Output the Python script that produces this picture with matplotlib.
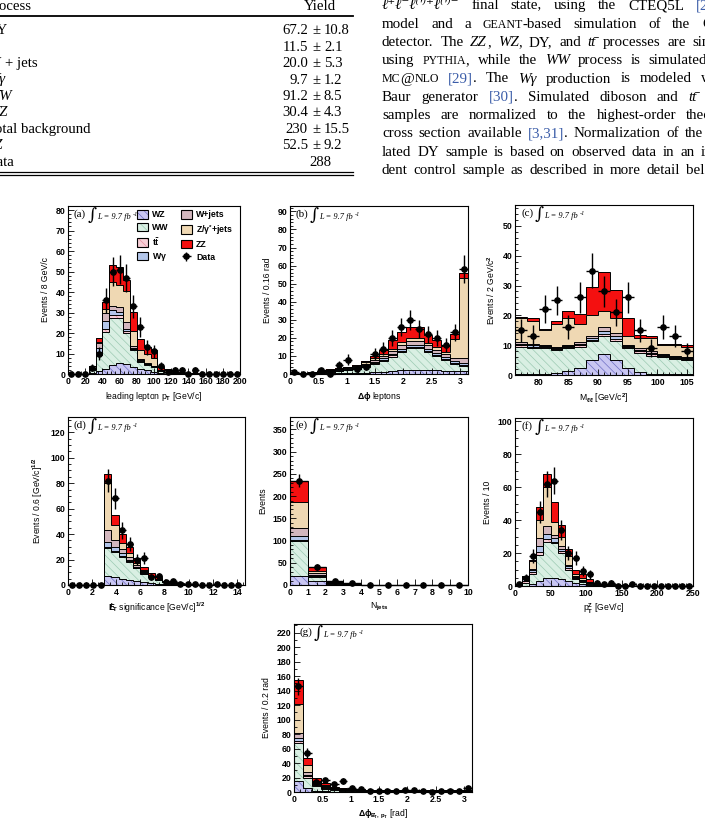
import numpy as np
import matplotlib
matplotlib.use('Agg')
import matplotlib.pyplot as plt
from matplotlib.patches import Patch
from matplotlib.lines import Line2D
from matplotlib.legend_handler import HandlerTuple
from matplotlib.ticker import MultipleLocator, AutoMinorLocator, FormatStrFormatter
from matplotlib.transforms import offset_copy

plt.rcParams['font.family'] = ['Liberation Sans', 'DejaVu Sans']
plt.rcParams['font.weight'] = 'bold'
plt.rcParams['mathtext.fontset'] = 'custom'
plt.rcParams['mathtext.rm'] = 'Liberation Sans:bold'
plt.rcParams['mathtext.it'] = 'Liberation Sans:italic:bold'
plt.rcParams['mathtext.bf'] = 'Liberation Sans:bold'
plt.rcParams['mathtext.sf'] = 'Liberation Sans:bold'
plt.rcParams['mathtext.default'] = 'rm'
plt.rcParams['hatch.linewidth'] = 0.5

W, H = 705, 824

# ---------------- table data ----------------
tab_names = ['DY', 't\u0074\u0304', 'W + jets', 'W\u03b3', 'WW', 'WZ', 'Total background', 'ZZ', 'Data']
tab_italic = [False, True, False, True, True, True, False, True, False]
tab_yield = ['67.2', '11.5', '20.0', '9.7', '91.2', '30.4', '230', '52.5', '288']
tab_err = ['10.8', '2.1', '5.3', '1.2', '8.5', '4.3', '15.5', '9.2', '']

# ---------------- histogram data ----------------
# stack order bottom -> top: WZ, WW, ttbar, Wgamma, W+jets, Z/gamma*+jets, ZZ
a_edges = np.arange(0, 201, 8)
a_wz = [0, 0, 0, 0.3, 1.5, 2.5, 4.5, 5.5, 5, 3.5, 2.5, 1.8, 1, 0.4, 0.2, 0.1, 0.1, 0.05, 0, 0, 0, 0, 0, 0, 0]
a_ww = [0, 0, 0, 1.5, 8, 18, 23, 22, 15, 8, 3.5, 2.6, 2.5, 1, 0.6, 0.3, 0.2, 0.1, 0.1, 0, 0, 0, 0, 0, 0]
a_tt = [0, 0, 0, 0.5, 1, 1.5, 1.5, 1.5, 1.2, 0.8, 0.5, 0.3, 0.2, 0.1, 0.1, 0.05, 0, 0, 0, 0, 0, 0, 0, 0, 0]
a_wg = [0, 0, 0, 0.5, 2, 4, 2, 1.5, 1, 0.5, 0.3, 0.2, 0.1, 0.05, 0, 0, 0, 0, 0, 0, 0, 0, 0, 0, 0]
a_wjets = [0, 0, 0, 1, 2.5, 4, 2, 2, 3, 1, 0.5, 0.4, 0.3, 0.2, 0.1, 0.1, 0, 0, 0, 0, 0, 0, 0, 0, 0]
a_dy = [0, 0, 0, 0.2, 0.5, 1.5, 12, 11, 15.5, 7, 4.5, 4.7, 3.5, 0.3, 0.8, 0.5, 0.4, 0.2, 0.1, 0.1, 0, 0, 0, 0, 0]
a_zz = [0, 0, 0, 0.1, 2, 3.5, 8, 8.5, 5.3, 9.5, 5.5, 3.3, 4.1, 1.5, 0.7, 0.6, 0.4, 0.3, 0.2, 0.1, 0.1, 0, 0, 0, 0]
a_data = [0, 0, 0, 3, 10, 36, 50, 51, 47, 33, 23, 13, 11, 4, 1, 2, 2, 0, 2, 0, 0, 0, 0, 0, 0]

b_edges = np.linspace(0, np.pi, 21)
b_wz = [0.1, 0.1, 0.2, 0.3, 0.3, 0.4, 0.5, 0.6, 0.8, 1.0, 1.3, 1.6, 2.0, 2.2, 2.3, 2.2, 2.0, 1.8, 1.6, 1.5]
b_ww = [0.2, 0.3, 0.4, 0.6, 1.0, 1.2, 1.6, 2.0, 3.0, 4.5, 6, 8, 10, 12, 12, 10, 8, 6, 4, 3]
b_tt = [0, 0, 0, 0.1, 0.2, 0.2, 0.3, 0.3, 0.4, 0.5, 0.6, 0.7, 0.8, 0.8, 0.8, 0.8, 0.7, 0.6, 0.6, 0.5]
b_wg = [0.1, 0.1, 0.1, 0.2, 0.3, 0.4, 0.4, 0.5, 0.6, 0.7, 0.8, 1.0, 1.2, 1.2, 1.2, 1.0, 1.0, 0.9, 0.9, 1.0]
b_wjets = [0.1, 0.2, 0.2, 0.2, 0.4, 0.4, 0.5, 0.6, 0.8, 1.0, 1.3, 1.6, 2.0, 2.2, 2.2, 2.0, 1.8, 1.6, 2.0, 3.0]
b_dy = [0, 0.1, 0.1, 0.1, 0.2, 0.3, 0.4, 0.6, 0.8, 1.0, 1.0, 1.2, 1.5, 1.5, 1.5, 1.4, 1.5, 1.5, 10, 44]
b_zz = [0, 0, 0.1, 0.1, 0.2, 0.3, 0.4, 0.6, 0.8, 1.5, 2.5, 4.5, 6, 6, 6, 4, 4, 3, 3, 3]
b_data = [1, 0, 0, 2, 0, 5, 8, 3, 4, 11, 14, 20, 26, 30, 25, 22, 20, 16, 23, 58]

c_edges = np.arange(76, 107, 2)
c_wz = [0.5, 0.5, 0.5, 0.8, 1.5, 2.5, 5, 7, 5, 2.5, 1, 0.5, 0.3, 0.3, 0.2]
c_ww = [9, 8.5, 8.5, 7.7, 7.5, 7, 6.5, 6, 6.5, 6.5, 6.5, 6, 5.7, 5.2, 4.8]
c_tt = [0.4, 0.4, 0.3, 0.3, 0.3, 0.4, 0.4, 0.8, 0.6, 0.3, 0.4, 0.4, 0.3, 0.3, 0.3]
c_wg = [0.6, 0.6, 0.4, 0.4, 0.4, 0.6, 0.6, 1.0, 0.9, 0.4, 0.6, 0.6, 0.4, 0.4, 0.4]
c_wjets = [0.5, 0.5, 0.3, 0.3, 0.3, 0.5, 0.5, 1.2, 1.0, 0.3, 0.5, 0.5, 0.3, 0.3, 0.3]
c_dy = [8, 7.5, 5, 7.5, 9, 6, 7, 5.5, 5, 3, 3.5, 4.5, 3, 3.5, 3.5]
c_zz = [0.5, 1, 0.5, 1, 2.5, 3.5, 9.5, 13, 9.5, 6, 1, 0.5, 0.5, 0.5, 0.5]
c_data = [15, 13, 22, 25, 16, 26, 35, 28, 21, 26, 15, 9, 16, 13, 8]

d_edges = np.arange(0, 14.41, 0.6)
d_wz = [0, 0, 0, 0, 0, 7, 6, 5, 4, 3, 2, 1.5, 1, 0.6, 0.4, 0.3, 0.2, 0.1, 0.1, 0, 0, 0, 0, 0]
d_ww = [0, 0, 0, 0, 0, 22, 20, 17, 14, 10, 7, 4.5, 3, 1.4, 0.8, 0.5, 0.3, 0.2, 0.1, 0.1, 0, 0, 0, 0]
d_tt = [0, 0, 0, 0, 0, 1, 1, 1, 0.8, 0.6, 0.4, 0.3, 0.2, 0.1, 0.1, 0.05, 0, 0, 0, 0, 0, 0, 0, 0]
d_wg = [0, 0, 0, 0, 0, 4, 3, 2, 1.2, 0.8, 0.5, 0.3, 0.2, 0.1, 0.05, 0, 0, 0, 0, 0, 0, 0, 0, 0]
d_wjets = [0, 0, 0, 0, 0, 9, 5, 3, 2, 1.6, 1, 0.5, 0.3, 0.2, 0.1, 0.05, 0, 0, 0, 0, 0, 0, 0, 0]
d_dy = [0, 0, 0, 0, 0, 37, 12, 5, 3, 1.5, 0.5, 0.3, 0.2, 0.1, 0.1, 0.05, 0, 0, 0, 0, 0, 0, 0, 0]
d_zz = [0, 0, 0, 0, 0, 7, 8, 7, 5, 4, 2.5, 2, 1.5, 0.8, 0.6, 0.4, 0.3, 0.2, 0.1, 0.1, 0.05, 0.05, 0, 0]
d_data = [0, 0, 0, 0, 0, 82, 68, 43, 32, 20, 21, 6, 7, 2, 3, 1, 1, 1, 0, 0, 1, 0, 0, 0]

e_edges = np.arange(0, 11, 1)
e_wz = [20, 8, 1, 0.3, 0.1, 0, 0, 0, 0, 0]
e_ww = [80, 9, 2, 0.5, 0.1, 0, 0, 0, 0, 0]
e_tt = [2, 3, 2, 1, 0.2, 0.05, 0, 0, 0, 0]
e_wg = [8, 2, 0.5, 0.2, 0, 0, 0, 0, 0, 0]
e_wjets = [18, 4, 1, 0.5, 0.1, 0, 0, 0, 0, 0]
e_dy = [58, 6, 0.5, 0.2, 0.05, 0, 0, 0, 0, 0]
e_zz = [49, 8, 1.5, 0.4, 0.1, 0, 0, 0, 0, 0]
e_data = [235, 40, 8, 5, 0, 0, 0, 0, 0, 0]

f_edges = np.arange(0, 251, 10)
f_wz = [0.1, 0.3, 1.5, 3, 5, 5, 4, 3, 2, 1.2, 0.6, 0.3, 0.2, 0.1, 0.1, 0.05, 0, 0, 0, 0, 0, 0, 0, 0, 0]
f_ww = [0.2, 1.5, 6, 16, 22, 21, 16, 7, 2.5, 1.5, 0.8, 0.4, 0.3, 0.2, 0.1, 0.1, 0.05, 0, 0, 0, 0, 0, 0, 0, 0]
f_tt = [0.3, 1.5, 1, 1.5, 1.5, 1, 1, 1, 0.5, 0.4, 0.3, 0.2, 0.1, 0.1, 0.05, 0.05, 0, 0, 0, 0, 0, 0, 0, 0, 0]
f_wg = [0.2, 1, 1, 3.5, 3, 2, 1.5, 1, 0.5, 0.3, 0.2, 0.1, 0.1, 0, 0, 0, 0, 0, 0, 0, 0, 0, 0, 0, 0]
f_wjets = [0.2, 1, 1, 5, 5, 2, 1.5, 1, 0.5, 0.4, 0.3, 0.2, 0.1, 0.1, 0.05, 0, 0, 0, 0, 0, 0, 0, 0, 0, 0]
f_dy = [0, 0.5, 4.5, 11, 23.5, 8, 6, 5, 1, 1, 0.5, 0.3, 0.2, 0.1, 0.1, 0.05, 0.05, 0, 0, 0, 0, 0, 0, 0, 0]
f_zz = [0, 0.2, 0.5, 8, 8, 12, 7, 4.5, 3, 2.7, 1.3, 0.5, 0.5, 0.4, 0.3, 0.2, 0.2, 0.1, 0.1, 0.1, 0.05, 0.05, 0, 0, 0]
f_data = [1, 5, 18, 45, 62, 64, 34, 20, 17, 9, 7, 2, 1, 2, 0, 0, 1, 0, 0, 0, 0, 0, 0, 0, 0]

g_edges = np.linspace(0, np.pi, 21)
g_wz = [15, 5, 2, 1, 0.6, 0.4, 0.3, 0.2, 0.2, 0.2, 0.2, 0.2, 0.2, 0.2, 0.2, 0.2, 0.2, 0.2, 0.2, 0.2]
g_ww = [52, 15, 6, 3.5, 2, 1.5, 1.2, 1, 1, 1, 0.9, 0.9, 0.9, 0.8, 0.8, 0.8, 0.8, 0.8, 0.8, 0.8]
g_tt = [3, 2, 1.5, 1.5, 1, 0.8, 0.8, 0.8, 0.7, 0.7, 0.7, 0.7, 0.6, 0.6, 0.6, 0.6, 0.6, 0.6, 0.6, 0.6]
g_wg = [5, 2, 1, 0.5, 0.4, 0.3, 0.2, 0.2, 0.2, 0.2, 0.2, 0.2, 0.2, 0.2, 0.2, 0.2, 0.2, 0.2, 0.2, 0.2]
g_wjets = [6, 3, 2, 1.5, 1, 0.8, 0.7, 0.7, 0.6, 0.6, 0.6, 0.6, 0.6, 0.6, 0.6, 0.6, 0.6, 0.6, 0.6, 0.6]
g_dy = [40, 10, 2.5, 1.5, 1, 0.6, 0.5, 0.4, 0.3, 0.3, 0.3, 0.3, 0.3, 0.3, 0.3, 0.3, 0.3, 0.3, 0.3, 0.4]
g_zz = [33, 10, 5, 2.5, 1, 0.6, 0.4, 0.3, 0.3, 0.2, 0.2, 0.2, 0.2, 0.2, 0.2, 0.2, 0.2, 0.2, 0.2, 0.3]
g_data = [146, 54, 14, 16, 11, 15, 5, 4, 2, 2, 2, 1, 3, 3, 2, 0, 1, 1, 1, 5]

procs = ['WZ', 'WW', 'tt', 'Wg', 'Wjets', 'DY', 'ZZ']
proc_labels = ['WZ', 'WW', r'$t\bar{t}$', r'W$\gamma$', 'W+jets', r'Z/$\gamma^{*}$+jets', 'ZZ']
fills = {'WZ': '#c9c6f2', 'WW': '#d9efe3', 'tt': '#f6cfd6', 'Wg': '#b3c6ea',
         'Wjets': '#d3b7be', 'DY': '#efd8b3', 'ZZ': '#f41010'}
hatches = {'WZ': '#6f6fc4', 'WW': '#9ccab3', 'tt': '#e58fa0'}

fig = plt.figure(figsize=(W / 100, H / 100), dpi=100)
renderer = fig.canvas.get_renderer()


def px_text(x, y, s, **kw):
    return fig.text(x / W, 1 - y / H, s, **kw)


def fill_patch(name):
    if name in hatches:
        return dict(facecolor=fills[name], edgecolor=hatches[name], hatch='\\\\\\\\', lw=0)
    return dict(facecolor=fills[name], edgecolor=fills[name], lw=0)


def draw_panel(ax, edges, comps, data):
    edges = np.asarray(edges, float)
    base = np.zeros(len(edges) - 1)
    tops = []
    for name, vals in zip(procs, comps):
        top = base + np.asarray(vals, float)
        ax.stairs(top, edges, baseline=base, fill=True, **fill_patch(name))
        tops.append(top)
        base = top
    for top in tops:
        ax.stairs(top, edges, color='k', lw=0.7)
    d = np.asarray(data, float)
    cen = 0.5 * (edges[1:] + edges[:-1])
    eb = ax.errorbar(cen, d, yerr=np.sqrt(d), xerr=0.5 * np.diff(edges), fmt='o', color='k',
                     ms=3.8, lw=1.0, capsize=0, zorder=5, clip_on=False)
    return eb


def style(ax, xlim, ylim, xmaj, xmin, ymaj, ymin, xlabel, ylabel, tag):
    ax.set_xlim(*xlim)
    ax.set_ylim(*ylim)
    ax.xaxis.set_major_locator(MultipleLocator(xmaj))
    ax.xaxis.set_minor_locator(AutoMinorLocator(xmin))
    ax.xaxis.set_major_formatter(FormatStrFormatter('%g'))
    ax.yaxis.set_major_locator(MultipleLocator(ymaj))
    ax.yaxis.set_minor_locator(AutoMinorLocator(ymin))
    ax.yaxis.set_major_formatter(FormatStrFormatter('%g'))
    ax.tick_params(which='both', direction='in', top=False, right=False, labelsize=6.3, width=0.6, pad=2)
    ax.tick_params(which='major', length=4)
    ax.tick_params(which='minor', length=2)
    for sp in ax.spines.values():
        sp.set_linewidth(0.8)
    ax.set_xlabel(xlabel, fontsize=6.2, labelpad=3)
    ax.set_ylabel(ylabel, fontsize=6.2, labelpad=4)
    tr = offset_copy(ax.transAxes, fig=fig, x=6, y=-3, units='dots')
    ax.text(0, 1, '(%s)' % tag, transform=tr, va='top', ha='left', fontsize=8,
            family=['Liberation Serif', 'DejaVu Serif'], weight='normal')
    tr = offset_copy(ax.transAxes, fig=fig, x=20, y=-1, units='dots')
    ax.text(0, 1, '\u222b', transform=tr, va='top', ha='left', fontsize=12.5,
            family=['DejaVu Serif'], weight='normal')
    tr = offset_copy(ax.transAxes, fig=fig, x=29, y=-13, units='dots')
    t = ax.text(0, 1, 'L = 9.7 fb', transform=tr, va='baseline', ha='left', fontsize=6,
                family=['Liberation Serif', 'DejaVu Serif'], style='italic', weight='normal')
    w = t.get_window_extent(renderer).width
    tr = offset_copy(ax.transAxes, fig=fig, x=29 + w + 2, y=-10, units='dots')
    ax.text(0, 1, '-1', transform=tr, va='baseline', ha='left', fontsize=4.5,
            family=['Liberation Serif', 'DejaVu Serif'], style='italic', weight='normal')


def add_axes(l, r, t, b):
    return fig.add_axes([l / W, 1 - b / H, (r - l) / W, (b - t) / H])


# panel (a)
ax = add_axes(68, 240, 206, 374)
eb = draw_panel(ax, a_edges, [a_wz, a_ww, a_tt, a_wg, a_wjets, a_dy, a_zz], a_data)
style(ax, (0, 200), (0, 82), 20, 4, 10, 5, r'leading lepton p$_T$ [GeV/c]', 'Events / 8 GeV/c', 'a')
handles = [(Patch(**fill_patch(n)), Patch(fill=False, edgecolor='k', lw=0.8)) for n in procs]
handles.append(eb)
ax.legend(handles, proc_labels + ['Data'], handler_map={tuple: HandlerTuple(ndivide=1, pad=0)},
          ncol=2, loc='upper left', bbox_to_anchor=(0.40, 0.975), frameon=False, fontsize=6.3,
          handlelength=1.25, handleheight=1.1, labelspacing=0.4, columnspacing=1.4,
          handletextpad=0.5, borderpad=0, borderaxespad=0)

# panel (b)
ax = add_axes(290, 468, 206, 374)
draw_panel(ax, b_edges, [b_wz, b_ww, b_tt, b_wg, b_wjets, b_dy, b_zz], b_data)
style(ax, (0, np.pi), (0, 93), 0.5, 5, 10, 5, r'$\Delta\phi$ leptons', 'Events / 0.16 rad', 'b')

# panel (c)
ax = add_axes(515, 693, 205, 375)
draw_panel(ax, c_edges, [c_wz, c_ww, c_tt, c_wg, c_wjets, c_dy, c_zz], c_data)
style(ax, (76, 106), (0, 57), 5, 5, 10, 5, r'M$_{\ell\ell}$ [GeV/c$^2$]', r'Events / 2 GeV/c$^2$', 'c')

# panel (d)
ax = add_axes(68, 245, 417, 585)
draw_panel(ax, d_edges, [d_wz, d_ww, d_tt, d_wg, d_wjets, d_dy, d_zz], d_data)
style(ax, (0, 14.65), (0, 132), 2, 4, 20, 4, r'$E\!\!\!/_T$ significance [GeV/c]$^{1/2}$',
      r'Events / 0.6 [GeV/c]$^{1/2}$', 'd')

# panel (e)
ax = add_axes(290, 468, 417, 585)
draw_panel(ax, e_edges, [e_wz, e_ww, e_tt, e_wg, e_wjets, e_dy, e_zz], e_data)
style(ax, (0, 10), (0, 378), 1, 2, 50, 5, r'N$_{jets}$', 'Events', 'e')

# panel (f)
ax = add_axes(515, 693, 418, 586)
draw_panel(ax, f_edges, [f_wz, f_ww, f_tt, f_wg, f_wjets, f_dy, f_zz], f_data)
style(ax, (0, 250), (0, 102), 50, 5, 20, 4, r'p$_T^Z$ [GeV/c]', 'Events / 10', 'f')

# panel (g)
ax = add_axes(294, 472, 624, 792)
draw_panel(ax, g_edges, [g_wz, g_ww, g_tt, g_wg, g_wjets, g_dy, g_zz], g_data)
style(ax, (0, np.pi), (0, 232), 0.5, 5, 20, 2, r'$\Delta\phi_{E\!\!\!/_T,\,p_T}$ [rad]',
      'Events / 0.2 rad', 'g')

# ---------------- table ----------------
tab = dict(family=['Liberation Serif', 'DejaVu Serif'], weight='normal', fontsize=10.6, va='baseline')
px_text(-13, 10, 'Process', **tab)
px_text(320, 10, 'Yield', ha='center', **tab)
fig.add_artist(Line2D([0, 353 / W], [1 - 16 / H] * 2, transform=fig.transFigure, color='k', lw=1.3))
for i, (nm, itl, yv, er) in enumerate(zip(tab_names, tab_italic, tab_yield, tab_err)):
    y = 34.3 + 16.4 * i
    if nm == 'W + jets':
        t = px_text(-13, y, 'W', style='italic', **tab)
        w = t.get_window_extent(renderer).width
        px_text(-13 + w + 6, y, '+ jets', **tab)
    else:
        px_text(-13, y, nm, style='italic' if itl else 'normal', **tab)
    if er:
        px_text(308, y, yv, ha='right', **tab)
        px_text(316, y, '\u00b1', ha='center', **tab)
        px_text(324, y, er, ha='left', **tab)
    else:
        px_text(320, y, yv, ha='center', **tab)
for yy in (171.7, 174.7):
    fig.add_artist(Line2D([0, 353 / W], [1 - yy / H] * 2, transform=fig.transFigure, color='k', lw=0.9))

# ---------------- body text ----------------
body = dict(family=['Liberation Serif', 'DejaVu Serif'], weight='normal', fontsize=10.8)
sc = dict(fontsize=8.6)
it = dict(style='italic')
blue = dict(color='#3a5ca8')


def body_line(y, segs, x0=382, x1=714):
    items = []
    for s, extra in segs:
        parts = s.split(' ')
        for i, p in enumerate(parts):
            if i > 0:
                items.append(None)
            if p:
                items.append((p, extra))
    texts, widths = [], []
    for item in items:
        if item is None:
            continue
        kw = dict(body)
        kw.update(item[1])
        t = px_text(0, y, item[0], va='baseline', **kw)
        texts.append(t)
        widths.append(t.get_window_extent(renderer).width)
    nsp = items.count(None)
    sw = 0.25 * 10.8 * 100 / 72
    gap = sw
    if nsp:
        gap = max(0.8 * sw, (x1 - x0 - sum(widths)) / nsp)
    x, k = x0, 0
    for item in items:
        if item is None:
            x += gap
            continue
        texts[k].set_x(x / W)
        x += widths[k]
        k += 1


ttbar = 't\u0074\u0304'
lines = [
    [('\u2113\u207a\u2113\u207b\u2113\u207d\u2032\u207e\u207a\u2113\u207d\u2032\u207e\u207b', it),
     (' final state, using the CTEQ5L ', {}), ('[24', blue)],
    [('model and a ', {}), ('GEANT', sc), ('-based simulation of the C', {})],
    [('detector. The ', {}), ('ZZ', it), (', ', {}), ('WZ', it), (', DY, and ', {}), (ttbar, it),
     (' processes are sim', {})],
    [('using ', {}), ('PYTHIA', sc), (', while the ', {}), ('WW', it), (' process is simulated', {})],
    [('MC', sc), ('@', {}), ('NLO', sc), (' ', {}), ('[29]', blue), ('. The ', {}),
     ('W\u03b3', it), (' production is modeled w', {})],
    [('Baur generator ', {}), ('[30]', blue), ('. Simulated diboson and ', {}), (ttbar, it)],
    [('samples are normalized to the highest-order theo', {})],
    [('cross section available ', {}), ('[3,31]', blue), ('. Normalization of the', {})],
    [('lated DY sample is based on observed data in an in', {})],
    [('dent control sample as described in more detail belo', {})],
]
ends = [716, 712, 714, 707, 712, 697, 712, 703, 712, 712]
for i, (segs, x1) in enumerate(zip(lines, ends)):
    body_line(9.3 + 18.3 * i, segs, x1=x1)

fig.savefig('out.png', dpi=100)
